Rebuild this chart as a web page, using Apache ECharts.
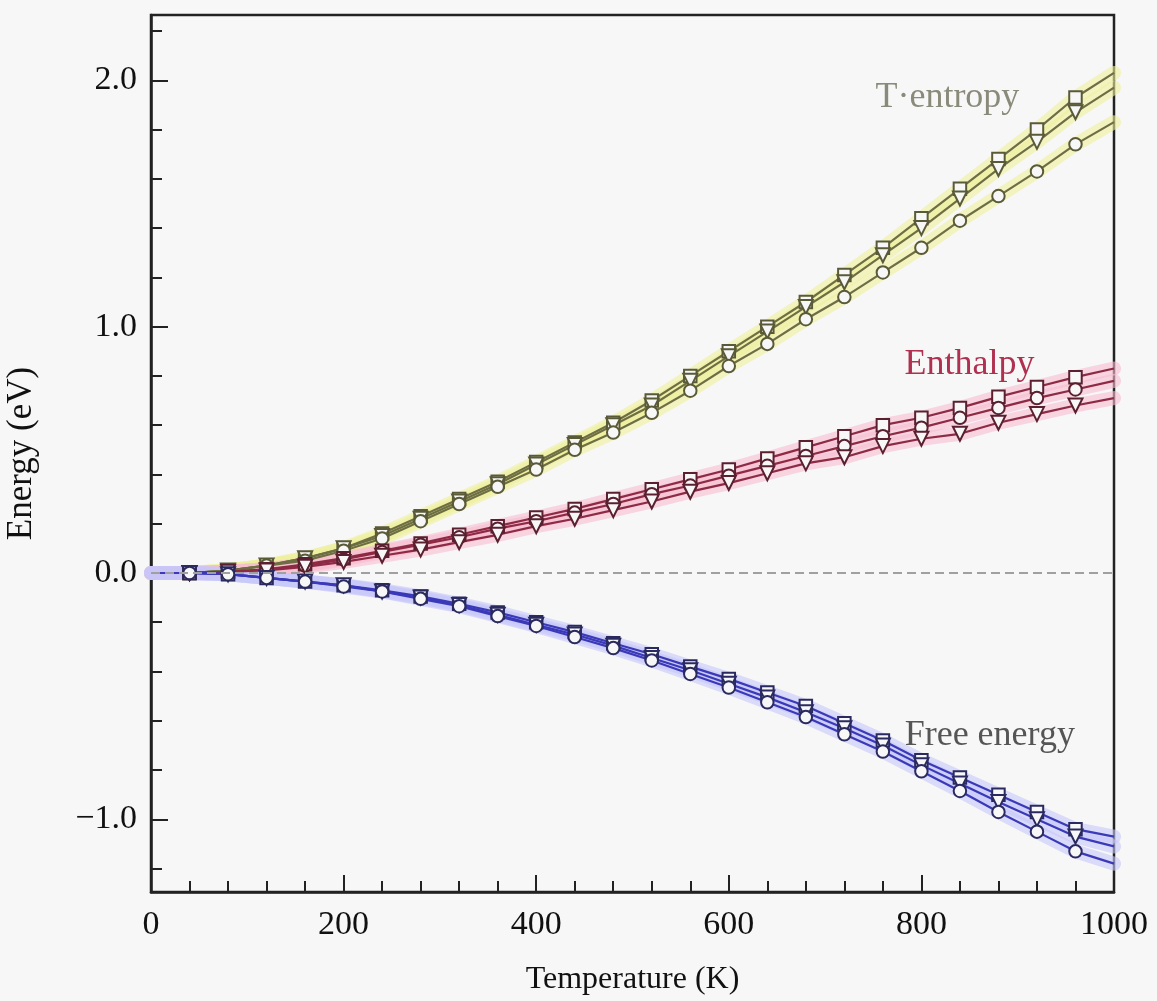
<!DOCTYPE html>
<html>
<head>
<meta charset="utf-8">
<script src="https://cdn.jsdelivr.net/npm/echarts@6/dist/echarts.min.js"></script>
<style>html,body{margin:0;padding:0;background:#f7f7f7;}#c{width:1157px;height:1001px;}</style>
</head>
<body>
<div id="c"></div>
<script>
// Temperature grid (K)
const temps = [0, 40, 80, 120, 160, 200, 240, 280, 320, 360, 400, 440, 480, 520, 560, 600, 640, 680, 720, 760, 800, 840, 880, 920, 960, 1000];

// T*entropy (eV)
const tsSquare   = [0, 0.00, 0.01, 0.03, 0.06, 0.10, 0.16, 0.23, 0.30, 0.37, 0.45, 0.53, 0.61, 0.70, 0.80, 0.90, 1.00, 1.10, 1.21, 1.32, 1.44, 1.56, 1.68, 1.80, 1.93, 2.03];
const tsTriangle = [0, 0.00, 0.01, 0.03, 0.06, 0.10, 0.15, 0.22, 0.29, 0.36, 0.44, 0.52, 0.60, 0.68, 0.78, 0.88, 0.98, 1.08, 1.18, 1.29, 1.40, 1.52, 1.64, 1.75, 1.87, 1.97];
const tsCircle   = [0, 0.00, 0.01, 0.03, 0.05, 0.09, 0.14, 0.21, 0.28, 0.35, 0.42, 0.50, 0.57, 0.65, 0.74, 0.84, 0.93, 1.03, 1.12, 1.22, 1.32, 1.43, 1.53, 1.63, 1.74, 1.83];

// Enthalpy (eV)
const hSquare   = [0, 0, 0.005, 0.015, 0.035, 0.06, 0.09, 0.12, 0.155, 0.19, 0.225, 0.26, 0.30, 0.34, 0.38, 0.42, 0.465, 0.51, 0.555, 0.60, 0.63, 0.67, 0.715, 0.755, 0.795, 0.83];
const hCircle   = [0, 0, 0.005, 0.015, 0.03, 0.055, 0.085, 0.115, 0.145, 0.18, 0.21, 0.245, 0.28, 0.32, 0.355, 0.395, 0.435, 0.475, 0.515, 0.555, 0.59, 0.63, 0.67, 0.71, 0.745, 0.78];
const hTriangle = [0, 0, 0.005, 0.01, 0.025, 0.045, 0.07, 0.095, 0.125, 0.155, 0.19, 0.22, 0.255, 0.29, 0.33, 0.365, 0.405, 0.445, 0.47, 0.515, 0.545, 0.565, 0.61, 0.645, 0.68, 0.71];

// Free energy (eV)
const fSquare   = [0, 0, -0.005, -0.02, -0.035, -0.05, -0.07, -0.095, -0.125, -0.16, -0.2, -0.24, -0.285, -0.33, -0.38, -0.43, -0.485, -0.54, -0.61, -0.68, -0.76, -0.83, -0.9, -0.97, -1.04, -1.07];
const fTriangle = [0, 0, -0.005, -0.02, -0.035, -0.05, -0.075, -0.1, -0.13, -0.17, -0.21, -0.25, -0.295, -0.345, -0.395, -0.45, -0.505, -0.565, -0.63, -0.7, -0.78, -0.855, -0.93, -1.0, -1.07, -1.11];
const fCircle   = [0, 0, -0.005, -0.02, -0.035, -0.055, -0.075, -0.105, -0.135, -0.175, -0.215, -0.26, -0.305, -0.355, -0.41, -0.465, -0.525, -0.585, -0.655, -0.725, -0.805, -0.885, -0.97, -1.05, -1.13, -1.18];

// Axis ticks
const xTicks = [0, 200, 400, 600, 800, 1000];
const yMajor = [-1, 0, 1, 2];
const yMinor = [-1.2, -0.8, -0.6, -0.4, -0.2, 0.2, 0.4, 0.6, 0.8, 1.2, 1.4, 1.6, 1.8, 2.2];

// Annotations: [text, T, E]
const labelTS = ['T·entropy', 827, 1.93];
const labelH  = ['Enthalpy', 850, 0.845];
const labelF  = ['Free energy', 871, -0.66];

const FONT = '"Liberation Serif", "DejaVu Serif", serif';

function pts(vals) { return temps.map((t, i) => [t, vals[i]]); }

function band(vals, color, extra) {
  return Object.assign({
    type: 'line', data: pts(vals), symbol: 'none', silent: true, z: 1,
    lineStyle: { width: 14, color: color, opacity: 0.6, cap: 'round', join: 'round' }
  }, extra || {});
}

function curve(vals, symbol, rotate, lineColor, strokeColor) {
  return {
    type: 'line', z: 3, showAllSymbol: true,
    data: temps.map((t, i) => ({ value: [t, vals[i]], symbol: (t === 0 || t === 1000) ? 'none' : symbol })),
    symbol: symbol, symbolSize: symbol === 'triangle' ? 14 : 12.5, symbolRotate: rotate,
    lineStyle: { width: 2.2, color: lineColor },
    itemStyle: { color: '#f7f7f7', borderColor: strokeColor, borderWidth: 2 }
  };
}

function annot(lbl, color) {
  return {
    symbol: 'rect', symbolSize: 1, silent: true,
    itemStyle: { color: 'rgba(0,0,0,0)' },
    label: { show: true, position: 'inside', formatter: lbl[0], color: color, fontSize: 36, fontFamily: FONT },
    data: [{ coord: [lbl[1], lbl[2]] }]
  };
}

const chart = echarts.init(document.getElementById('c'), null, { renderer: 'canvas' });

const yr = { min: -1.295, max: 2.265 };

chart.setOption({
  animation: false,
  backgroundColor: '#f7f7f7',
  grid: { left: 151, right: 43, top: 15, bottom: 109, show: true, borderColor: '#222', borderWidth: 2.5, backgroundColor: 'transparent', containLabel: false, outerBoundsMode: 'none' },
  xAxis: {
    type: 'value', min: 0, max: 1000, interval: 200,
    name: 'Temperature (K)', nameLocation: 'middle', nameGap: 72,
    nameTextStyle: { fontFamily: FONT, fontSize: 32, color: '#111' },
    axisLine: { show: true, onZero: false, lineStyle: { color: '#222', width: 2.5 } },
    axisTick: { inside: true, length: 17, lineStyle: { color: '#222', width: 2 } },
    minorTick: { show: true, splitNumber: 5, length: 11, lineStyle: { color: '#222', width: 2 } },
    axisLabel: { margin: 16, fontFamily: FONT, fontSize: 34, color: '#111', customValues: xTicks, formatter: v => String(v) },
    splitLine: { show: false }
  },
  yAxis: [
    Object.assign({
      type: 'value', position: 'left',
      name: 'Energy (eV)', nameLocation: 'middle', nameGap: 112,
      nameTextStyle: { fontFamily: FONT, fontSize: 35, color: '#111' },
      axisLine: { show: true, onZero: false, lineStyle: { color: '#222', width: 2.5 } },
      axisTick: { inside: true, length: 17, customValues: yMajor, lineStyle: { color: '#222', width: 2 } },
      axisLabel: {
        margin: 14, fontFamily: FONT, fontSize: 34, color: '#111', customValues: yMajor,
        formatter: v => (v < 0 ? '\u2212' + Math.abs(v).toFixed(1) : v.toFixed(1))
      },
      splitLine: { show: false }
    }, yr),
    Object.assign({
      type: 'value', position: 'left', offset: 0,
      axisLine: { show: false, onZero: false },
      axisTick: { show: true, inside: true, length: 11, customValues: yMinor, lineStyle: { color: '#222', width: 2 } },
      axisLabel: { show: false },
      splitLine: { show: false }
    }, yr)
  ],
  series: [
    band(tsSquare, '#eef09a', {
      markLine: {
        silent: true, symbol: 'none', label: { show: false },
        lineStyle: { type: [9, 5], color: '#a0a0a0', width: 1.8 },
        data: [{ yAxis: 0 }]
      },
      markPoint: annot(labelTS, '#8a8a7a')
    }),
    band(tsTriangle, '#eef09a'),
    band(tsCircle, '#eef09a'),
    band(hSquare, '#f7bcd0', { markPoint: annot(labelH, '#b0304f') }),
    band(hCircle, '#f7bcd0'),
    band(hTriangle, '#f7bcd0'),
    band(fSquare, '#c6c6fa', { markPoint: annot(labelF, '#555555') }),
    band(fTriangle, '#c6c6fa'),
    band(fCircle, '#c6c6fa'),
    curve(tsSquare, 'rect', 0, '#6e6e44', '#5a5a38'),
    curve(tsTriangle, 'triangle', 180, '#6e6e44', '#5a5a38'),
    curve(tsCircle, 'circle', 0, '#6e6e44', '#5a5a38'),
    curve(hSquare, 'rect', 0, '#8e2a44', '#5a2030'),
    curve(hCircle, 'circle', 0, '#8e2a44', '#5a2030'),
    curve(hTriangle, 'triangle', 180, '#8e2a44', '#5a2030'),
    curve(fSquare, 'rect', 0, '#3a3ab8', '#2a2a60'),
    curve(fTriangle, 'triangle', 180, '#3a3ab8', '#2a2a60'),
    curve(fCircle, 'circle', 0, '#3a3ab8', '#2a2a60')
  ]
});
</script>
</body>
</html>
